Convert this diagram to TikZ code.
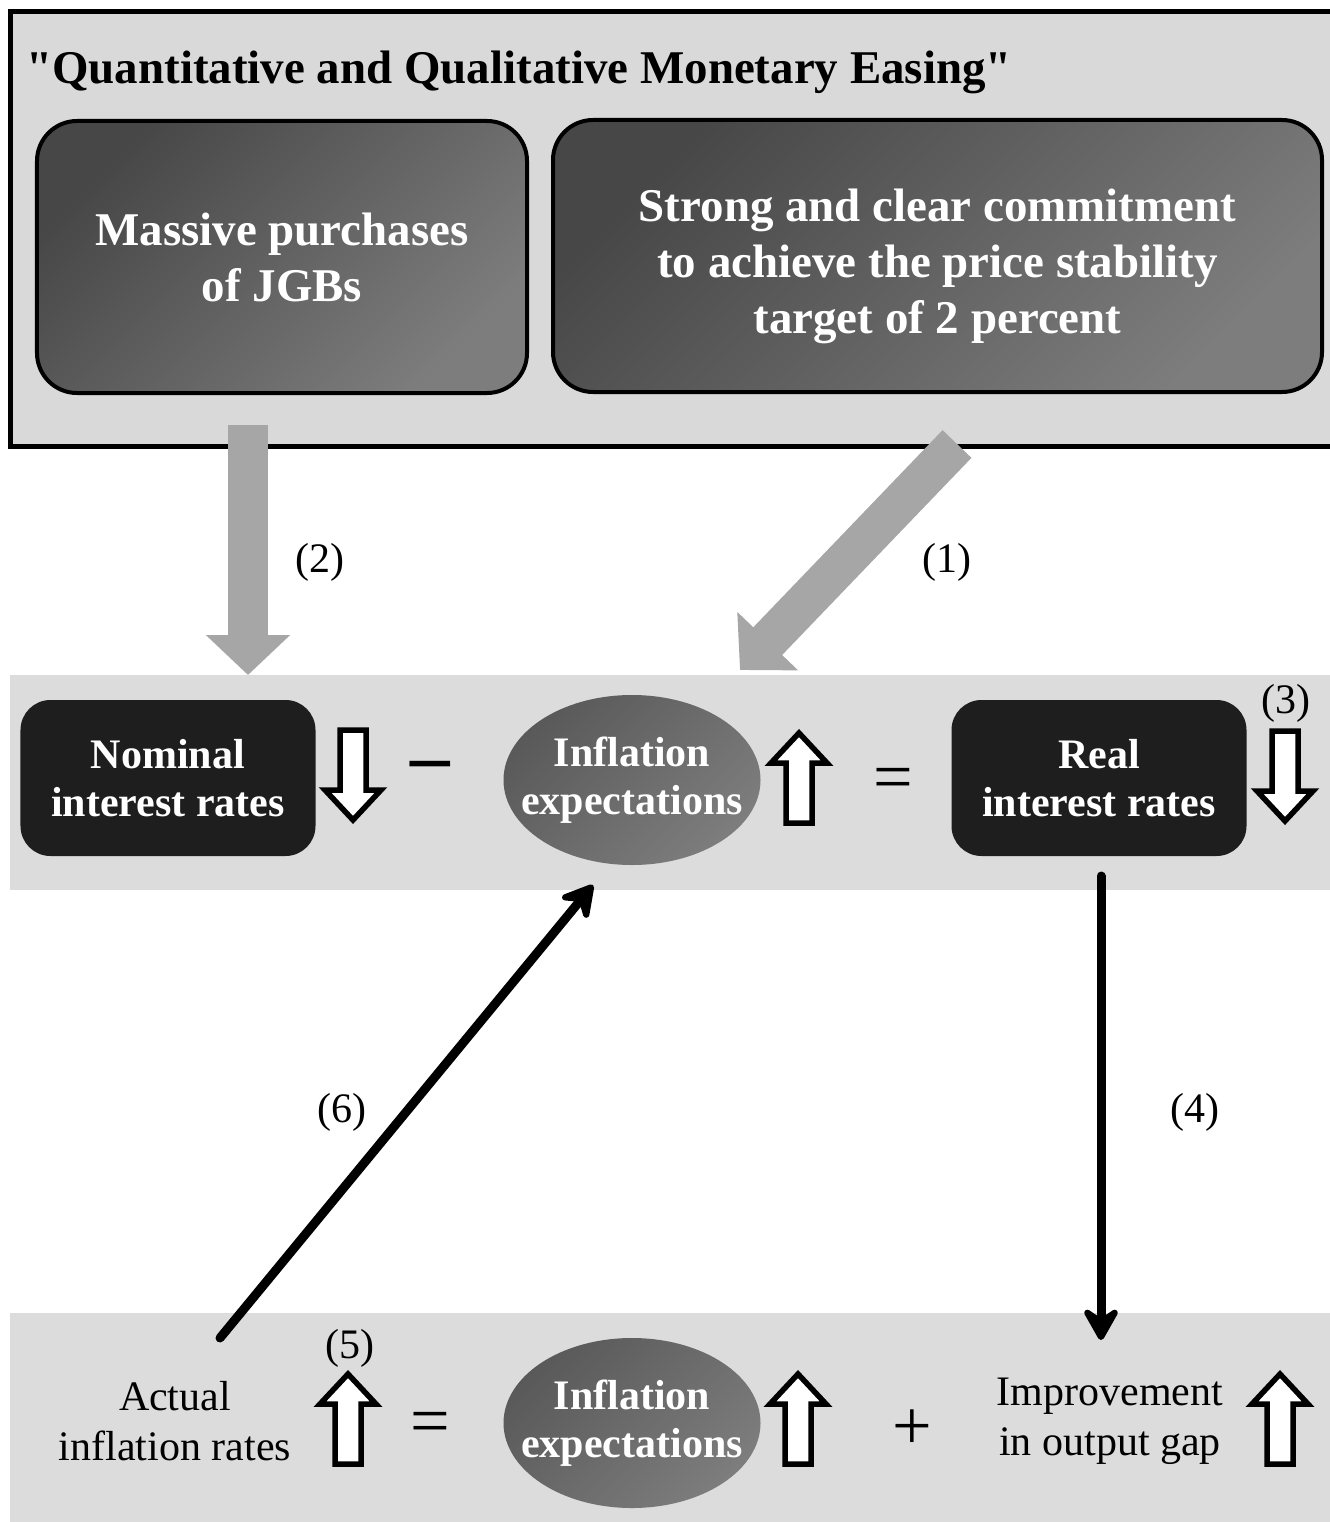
\documentclass[tikz,border=0pt]{standalone}
\usepackage{fontspec}
\setmainfont{Liberation Serif}
\usetikzlibrary{arrows.meta,positioning,shapes.geometric}

\definecolor{panelgrey}{HTML}{D9D9D9}
\definecolor{bandgrey}{HTML}{DCDCDC}
\definecolor{arrowgrey}{HTML}{A6A6A6}
\definecolor{boxblack}{HTML}{1E1E1E}
\definecolor{shadedark}{HTML}{474747}
\definecolor{shadelight}{HTML}{7D7D7D}

\tikzset{
  topbox/.style={draw, line width=0.8mm, rounded corners=8mm, top color=shadedark,
    bottom color=shadelight, shading angle=45, text=white, align=center, inner sep=0pt,
    font=\bfseries\fontsize{26.7}{31.9}\selectfont},
  ratebox/.style={fill=boxblack, rounded corners=6mm, text=white, align=center,
    minimum width=59mm, minimum height=31.2mm, inner sep=0pt,
    font=\bfseries\fontsize{23.9}{27.3}\selectfont},
  expell/.style={ellipse, minimum width=51.4mm, minimum height=34mm, inner sep=0pt,
    top color=shadedark!90!white, bottom color=shadelight, shading angle=45},
  elltext/.style={text=white, align=center, inner sep=0pt,
    font=\bfseries\fontsize{23.9}{27.3}\selectfont},
  plaintext/.style={align=center, inner sep=0pt, font=\fontsize{23.9}{28.5}\selectfont},
  numlabel/.style={inner sep=0pt, font=\fontsize{23.9}{28.5}\selectfont},
  opsign/.style={inner sep=0pt, font=\fontsize{40}{40}\selectfont},
  greyarrow/.style={draw=arrowgrey, line width=8mm, -{Triangle[width=16.4mm,length=8mm]}},
  blackarrow/.style={line width=1.8mm, line cap=round,
    -{Stealth[length=8mm,width=9mm,inset=3mm,round]}},
  hollowarrow/.pic={
    \draw[line width=1.1mm, fill=white, miter limit=4]
      (-13,-46) -- (13,-46) -- (13,14) -- (28,14) -- (0,44) -- (-28,14) -- (-13,14) -- cycle;
  }
}

\begin{document}
\begin{tikzpicture}[x=0.2mm, y=-0.2mm]
  \useasboundingbox (0,0) rectangle (1330,1522);

  % top panel
  \draw[line width=1mm, fill=panelgrey] (10,12) rectangle (1345,446);
  \node[anchor=base west, inner sep=0pt, font=\bfseries\fontsize{26.7}{31.9}\selectfont]
    (title) at (26,84) {\textquotedbl Quantitative and Qualitative Monetary Easing\textquotedbl};
  \node[topbox, minimum width=98mm, minimum height=54.4mm] (jgb) at (282,257)
    {Massive purchases\\of JGBs};
  \node[topbox, minimum width=153.8mm, minimum height=54.4mm] (commit) at (937.5,256)
    {\rule{0pt}{30pt}Strong and clear commitment\\to achieve the price stability\\target of 2 percent};

  % bands
  \fill[bandgrey] (10,675) rectangle (1345,890);
  \fill[bandgrey] (10,1313) rectangle (1345,1530);

  % middle row
  \node[ratebox] (nominal) at (168,778) {Nominal\\interest rates};
  \pic (nomarr) at (353,776) {hollowarrow};
  \node[opsign, font=\bfseries\fontsize{45}{45}\selectfont] (minus) at (430,772) {--};
  \node[expell] (expA) at (632,780) {};
  \node[elltext] (expAtxt) at (expA.center) {Inflation\\expectations};
  \pic[rotate=180] (exparrA) at (799,777) {hollowarrow};
  \node[opsign] (eqA) at (893,784) {=};
  \node[ratebox] (real) at (1099,778) {Real\\interest rates};
  \pic (realarr) at (1285,777) {hollowarrow};
  \node[numlabel] (n3) at (1286,703) {(3)};

  % bottom row
  \node[plaintext] (actual) at (175,1421) {Actual\\inflation rates};
  \pic[rotate=180] (actarr) at (348,1418) {hollowarrow};
  \node[numlabel] (n5) at (350,1348) {(5)};
  \node[opsign] (eqB) at (430,1428) {=};
  \node[expell] (expB) at (632,1423) {};
  \node[elltext] (expBtxt) at (expB.center) {Inflation\\expectations};
  \pic[rotate=180] (exparrB) at (798,1418) {hollowarrow};
  \node[opsign] (plus) at (912,1430) {+};
  \node[plaintext] (gap) at (1110,1421) {Improvement\\in output gap};
  \pic[rotate=180] (gaparr) at (1280,1418) {hollowarrow};

  % grey arrows
  \coordinate (jgbout) at (248,425);
  \coordinate (nomin) at (248,675);
  \coordinate (commitout) at (957,444);
  \coordinate (expin) at (740,670);
  \draw[greyarrow] (jgbout) -- (nomin);
  \draw[greyarrow] (commitout) -- (expin);
  \node[numlabel] (n2) at (320,562) {(2)};
  \node[numlabel] (n1) at (947,562) {(1)};

  % black arrows
  \coordinate (realout) at (1101,876);
  \coordinate (gapin) at (1101,1340);
  \coordinate (actout) at (220,1338);
  \coordinate (expAin) at (593,885);
  \draw[blackarrow] (realout) -- (gapin);
  \draw[blackarrow] (actout) -- (expAin);
  \node[numlabel] (n4) at (1195,1112) {(4)};
  \node[numlabel] (n6) at (342,1112) {(6)};
\end{tikzpicture}
\end{document}
